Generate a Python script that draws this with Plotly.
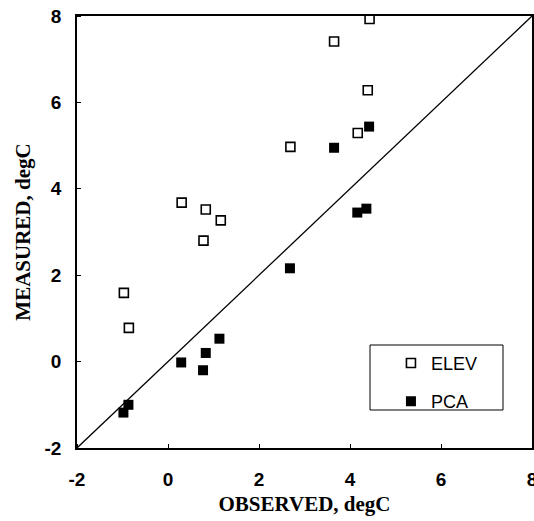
import plotly.graph_objects as go

# ELEV (open squares)
elev_x = [0.30, 0.83, 1.16, 0.78, -0.97, -0.86, 2.69, 3.65, 4.43, 4.39, 4.17]
elev_y = [3.68, 3.52, 3.27, 2.80, 1.59, 0.78, 4.97, 7.41, 7.93, 6.28, 5.29]

# PCA (filled squares)
pca_x = [2.68, 1.13, 0.83, 0.29, 0.77, -0.87, -0.98, 4.42, 3.65, 4.16, 4.36]
pca_y = [2.16, 0.53, 0.20, -0.02, -0.20, -1.00, -1.18, 5.44, 4.95, 3.45, 3.54]

one_to_one = [-2, 8]
tick_vals = [-2, 0, 2, 4, 6, 8]
tick_text = ["-2", "0", "2", "4", "6", "8"]

fig = go.Figure()
fig.add_trace(go.Scatter(x=one_to_one, y=one_to_one, mode="lines",
                         line=dict(color="black", width=1.3), showlegend=False,
                         hoverinfo="skip"))
fig.add_trace(go.Scatter(x=elev_x, y=elev_y, mode="markers", name="ELEV",
                         legendgroup="a",
                         marker=dict(symbol="square-open", size=9, color="black",
                                     line=dict(width=1.6, color="black"))))
fig.add_trace(go.Scatter(x=pca_x, y=pca_y, mode="markers", name="PCA",
                         legendgroup="b",
                         marker=dict(symbol="square", size=10, color="black")))


def axis_common(ticklen):
    return dict(
        range=[-2, 8], tickvals=tick_vals, ticktext=tick_text,
        showgrid=False, zeroline=False, showline=True, linecolor="black", linewidth=1.5,
        mirror=True, ticks="outside", ticklen=ticklen, tickcolor="rgba(0,0,0,0)",
        ticklabeloverflow="allow", automargin=False,
        minor=dict(tickvals=tick_vals, ticks="inside", ticklen=4, tickcolor="black",
                   showgrid=False),
        tickfont=dict(family="Liberation Sans", size=19, color="black", weight="bold"),
    )


fig.update_layout(
    width=534, height=521,
    margin=dict(l=77, r=2, t=16, b=73),
    plot_bgcolor="white", paper_bgcolor="white",
    xaxis=dict(**axis_common(13),
               title=dict(text="OBSERVED, degC", standoff=8,
                          font=dict(family="Liberation Serif", size=21, color="black", weight="bold"))),
    yaxis=dict(**axis_common(10),
               title=dict(text="MEASURED, degC", standoff=8,
                          font=dict(family="Liberation Serif", size=21, color="black", weight="bold"))),
    legend=dict(x=0.69, y=0.239, xanchor="left", yanchor="top",
                bgcolor="rgba(0,0,0,0)", borderwidth=0,
                tracegroupgap=12, traceorder="grouped",
                itemwidth=30,
                font=dict(family="Liberation Sans", size=18, color="black")),
    shapes=[dict(type="rect", xref="paper", yref="paper",
                 x0=(370 - 77) / 455, x1=(503 - 77) / 455,
                 y0=(448 - 410) / 432, y1=(448 - 345) / 432,
                 line=dict(color="black", width=1), fillcolor="rgba(0,0,0,0)")],
)

fig.write_html("out.html", config={"displayModeBar": False},
               post_script="document.body.style.margin='0';document.body.style.overflow='hidden';")
